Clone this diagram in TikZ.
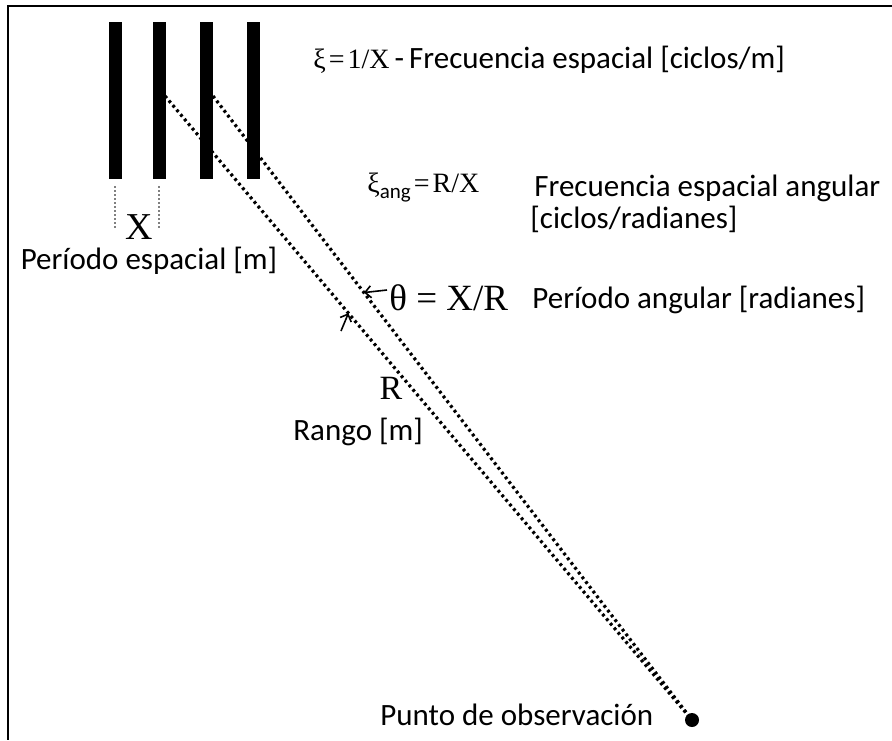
\documentclass[tikz,border=0pt]{standalone}
\usepackage[no-math]{fontspec}
\setmainfont{Carlito}
\newfontfamily\serifmath{Liberation Serif}
\usetikzlibrary{arrows.meta,calc}

\begin{document}
\begin{tikzpicture}[x=0.5pt,y=-0.5pt,
  lbl/.style={font=\fontsize{15.5}{18}\selectfont, inner sep=0pt, anchor=west},
  frm/.style={inner sep=0pt, anchor=west},
  ray/.style={line width=1.6pt, dash pattern=on 1.4pt off 1.6pt},
  guia/.style={gray, line width=0.7pt, dash pattern=on 1pt off 1pt},
  marca/.style={line width=0.8pt, -{Straight Barb[length=3pt,width=6pt]}}]
\useasboundingbox (0,0) rectangle (892,740);
% marco
\draw[line width=1pt] (892,6) -- (8,6) -- (8,740);

% rejilla
\foreach \x in {115,159,206,253}
  \fill (\x-6.5,22) rectangle (\x+6.5,179);

% periodo espacial
\coordinate (g1a) at (115,186);
\coordinate (g1b) at (115,229);
\coordinate (g2a) at (159,186);
\coordinate (g2b) at (159,229);
\draw[guia] (g1a) -- (g1b);
\draw[guia] (g2a) -- (g2b);
\node[font=\serifmath\fontsize{19}{20}\selectfont, inner sep=0pt] (perX) at (139,227) {X};
\node[lbl, anchor=center] (perEsp) at (149,261) {Período espacial [m]};

% rayos al punto de observacion
\coordinate (b2) at (165,96);
\coordinate (b3) at (213,96);
\node[circle, fill, inner sep=0pt, minimum size=7pt] (obs) at (692,720) {};
\draw[ray] (b2) -- (obs.center);
\draw[ray] (b3) -- (obs.center);
\node[lbl] (obsTxt) at (380,715) {Punto de observación};

% angulo
\coordinate (a1) at (387,290);
\coordinate (a2) at (341,331);
\draw[marca] (a1) -- ($(b3)!0.315!(obs.center)$);
\draw[marca] (a2) -- ($(b2)!0.348!(obs.center)$);
\node[frm, font=\serifmath\fontsize{18.5}{19}\selectfont] (theta) at (389,298) {θ = X/R};
\node[lbl] (thetaTxt) at (532,300) {Período angular [radianes]};

% rango
\node[font=\serifmath\fontsize{17}{18}\selectfont, inner sep=0pt] (rango) at (391,388) {R};
\node[lbl] (rangoTxt) at (293,432) {Rango [m]};

% frecuencias
\node[lbl] (xi) at (313,60) {{\serifmath\fontsize{14}{15}\selectfont ξ\kern1.5pt=\kern1.5pt1/X}\kern2.5pt-\kern2.5pt Frecuencia espacial [ciclos/m]};
\node[frm, font=\serifmath\fontsize{14}{15}\selectfont] (xiAng) at (367,188) {ξ\raisebox{-3pt}{\normalfont\fontsize{10.5}{11}\selectfont ang}\kern1.5pt=\kern1.5pt R/X};
\node[lbl] (xiAngTxt) at (534,188) {Frecuencia espacial angular};
\node[lbl] (xiAngUd) at (530,219) {[ciclos/radianes]};
\end{tikzpicture}
\end{document}
